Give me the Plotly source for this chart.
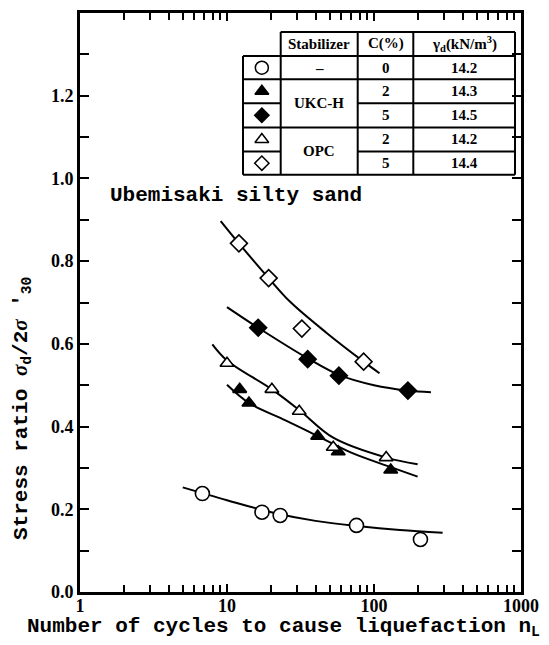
import plotly.graph_objects as go

# ---------------- data ----------------
circ_n = [6.8, 17.3, 23, 76, 207]
circ_r = [0.238, 0.193, 0.185, 0.161, 0.127]
ukc2_n = [12.2, 14.1, 41.4, 57.1, 130]
ukc2_r = [0.49, 0.457, 0.377, 0.339, 0.295]
ukc5_n = [16.3, 35.4, 57.7, 170]
ukc5_r = [0.639, 0.563, 0.523, 0.487]
opc2_n = [10.0, 20.2, 31, 52.8, 121]
opc2_r = [0.553, 0.49, 0.437, 0.35, 0.325]
opc5_n = [12.05, 19.2, 32.3, 85]
opc5_r = [0.843, 0.759, 0.637, 0.557]

# fitted curves as drawn in the picture
circ_cn = [5.0, 10, 20, 40, 80, 150, 293]
circ_cr = [0.253, 0.222, 0.193, 0.172, 0.159, 0.150, 0.143]
ukc2_cn = [10, 14.1, 25, 41.4, 70, 130, 198]
ukc2_cr = [0.501, 0.457, 0.415, 0.377, 0.337, 0.302, 0.279]
ukc5_cn = [10, 16.3, 35.4, 57.7, 100, 170, 244]
ukc5_cr = [0.689, 0.639, 0.565, 0.525, 0.500, 0.487, 0.483]
opc2_cn = [7.95, 10, 20.2, 31, 52.8, 121, 198]
opc2_cr = [0.599, 0.56, 0.49, 0.44, 0.373, 0.325, 0.309]
opc5_cn = [9.06, 12.05, 19.2, 27, 47.4, 85, 109]
opc5_cr = [0.897, 0.843, 0.759, 0.701, 0.627, 0.557, 0.529]

x_ticks = [1, 10, 100, 1000]
x_ticktext = ["1", "10", "100", "1000"]
y_ticks = [0.0, 0.2, 0.4, 0.6, 0.8, 1.0, 1.2]

# legend table content
tbl_header = ["Stabilizer", "C(%)", "γ<sub>d</sub>(kN/m<sup>3</sup>)"]
tbl_stab = ["–", "UKC-H", "OPC"]
tbl_c = ["0", "2", "5", "2", "5"]
tbl_gamma = ["14.2", "14.3", "14.5", "14.2", "14.4"]

# ---------------- figure ----------------
BLACK = "black"
fig = go.Figure()

curves = [(circ_cn, circ_cr), (ukc2_cn, ukc2_cr), (ukc5_cn, ukc5_cr),
          (opc2_cn, opc2_cr), (opc5_cn, opc5_cr)]
for cn, cr in curves:
    fig.add_trace(go.Scatter(x=cn, y=cr, mode="lines",
                             line=dict(color=BLACK, width=2, shape="spline", smoothing=1.0),
                             showlegend=False, hoverinfo="skip"))

series = [
    (circ_n, circ_r, "circle", "white", 14),
    (ukc2_n, ukc2_r, "triangle-up", BLACK, 12),
    (ukc5_n, ukc5_r, "diamond", BLACK, 13),
    (opc2_n, opc2_r, "triangle-up", "white", 12),
    (opc5_n, opc5_r, "diamond", "white", 13),
]
for n, r, sym, fillc, sz in series:
    fig.add_trace(go.Scatter(x=n, y=r, mode="markers",
                             marker=dict(symbol=sym, size=sz, color=fillc,
                                         line=dict(color=BLACK, width=1.6)),
                             showlegend=False))

# plot area in pixels
L, R, T, B = 80, 521, 10, 592
W, H = 549, 645

# ---- legend table drawn on an overlay pixel axis ----
x0, c1, c2, c3, x4 = 243, 280.7, 357.7, 413.3, 515
rows = [29, 53.3, 76.7, 100.7, 125, 149.3, 172.7]
segs = [
    (c1, rows[0], x4, rows[0]),
    (x0, rows[1], x4, rows[1]),
    (x0, rows[2], x4, rows[2]),
    (x0, rows[3], c1, rows[3]), (c2, rows[3], x4, rows[3]),
    (x0, rows[4], x4, rows[4]),
    (x0, rows[5], c1, rows[5]), (c2, rows[5], x4, rows[5]),
    (x0, rows[6], x4, rows[6]),
    (x0, rows[1], x0, rows[6]),
    (c1, rows[0], c1, rows[6]),
    (c2, rows[0], c2, rows[6]),
    (c3, rows[0], c3, rows[6]),
    (x4, rows[0], x4, rows[6]),
]
for a, b, c, d in segs:
    fig.add_shape(type="line", xref="x2", yref="y2", x0=a, y0=b, x1=c, y1=d,
                  line=dict(color=BLACK, width=2))

rc = [(rows[i] + rows[i + 1]) / 2 for i in range(6)]
tfont = dict(family="Liberation Serif", size=15, color=BLACK, weight="bold")
colc = [(c1 + c2) / 2, (c2 + c3) / 2, (c3 + x4) / 2]
for txt, cx in zip(tbl_header, colc):
    fig.add_annotation(x=cx, y=rc[0], xref="x2", yref="y2", text=txt,
                       showarrow=False, font=tfont)
stab_y = [rc[1], (rc[2] + rc[3]) / 2, (rc[4] + rc[5]) / 2]
for txt, yy in zip(tbl_stab, stab_y):
    fig.add_annotation(x=colc[0], y=yy, xref="x2", yref="y2", text=txt,
                       showarrow=False, font=tfont)
for i in range(5):
    fig.add_annotation(x=colc[1], y=rc[i + 1], xref="x2", yref="y2", text=tbl_c[i],
                       showarrow=False, font=tfont)
    fig.add_annotation(x=colc[2], y=rc[i + 1], xref="x2", yref="y2", text=tbl_gamma[i],
                       showarrow=False, font=tfont)

leg_sym = [("circle", "white", 13), ("triangle-up", BLACK, 12), ("diamond", BLACK, 11),
           ("triangle-up", "white", 12), ("diamond", "white", 11)]
for i, (sym, fillc, sz) in enumerate(leg_sym):
    fig.add_trace(go.Scatter(x=[(x0 + c1) / 2], y=[rc[i + 1]], xaxis="x2", yaxis="y2",
                             mode="markers",
                             marker=dict(symbol=sym, size=sz, color=fillc,
                                         line=dict(color=BLACK, width=1.5)),
                             showlegend=False, hoverinfo="skip"))

# chart label
fig.add_annotation(x=108, y=193, xref="x2", yref="y2", xanchor="left", yanchor="middle",
                   text="Ubemisaki silty sand", showarrow=False,
                   font=dict(family="Liberation Mono", size=21, color=BLACK, weight="bold"))

# axis titles
SIG = "<span style=\"font-family:'Liberation Serif';font-style:italic\">σ</span>"
fig.add_annotation(x=(22 - L) / (R - L), y=(B - 408) / (B - T), xref="paper", yref="paper",
                   xanchor="center", yanchor="middle",
                   text="Stress ratio " + SIG + "<sub>d</sub>/2" + SIG + " '<sub>30</sub>",
                   textangle=-90, showarrow=False,
                   font=dict(family="Liberation Mono", size=21, color=BLACK, weight="bold"))
fig.add_annotation(x=(283 - L) / (R - L), y=(B - 628) / (B - T), xref="paper", yref="paper",
                   xanchor="center", yanchor="middle",
                   text="Number of cycles to cause liquefaction n<sub>L</sub>",
                   showarrow=False,
                   font=dict(family="Liberation Mono", size=21, color=BLACK, weight="bold"))

tickfont = dict(family="Liberation Serif", size=18, color=BLACK, weight="bold")
fig.update_layout(
    width=W, height=H,
    margin=dict(l=L, r=W - R, t=T, b=H - B),
    paper_bgcolor="white", plot_bgcolor="white",
    xaxis=dict(type="log", range=[0, 3], tickvals=x_ticks, ticktext=x_ticktext,
               ticks="inside", ticklen=8, tickwidth=2, tickcolor=BLACK,
               minor=dict(ticks="inside", ticklen=7, tickwidth=1.5, tickcolor=BLACK,
                          dtick="D1", showgrid=False),
               showline=True, linewidth=3, linecolor=BLACK, mirror="ticks",
               showgrid=False, zeroline=False, tickfont=tickfont, ticklabelstandoff=-5),
    yaxis=dict(range=[0, 1.4], tickvals=y_ticks, tickformat=".1f",
               ticks="inside", ticklen=9, tickwidth=2, tickcolor=BLACK,
               minor=dict(ticks="inside", ticklen=9, tickwidth=2, tickcolor=BLACK,
                          dtick=0.1, showgrid=False),
               showline=True, linewidth=3, linecolor=BLACK, mirror="ticks",
               showgrid=False, zeroline=False, tickfont=tickfont),
    xaxis2=dict(range=[L, R], overlaying="x", visible=False, fixedrange=True),
    yaxis2=dict(range=[B, T], overlaying="y", visible=False, fixedrange=True),
)

fig.write_html("out.html")
